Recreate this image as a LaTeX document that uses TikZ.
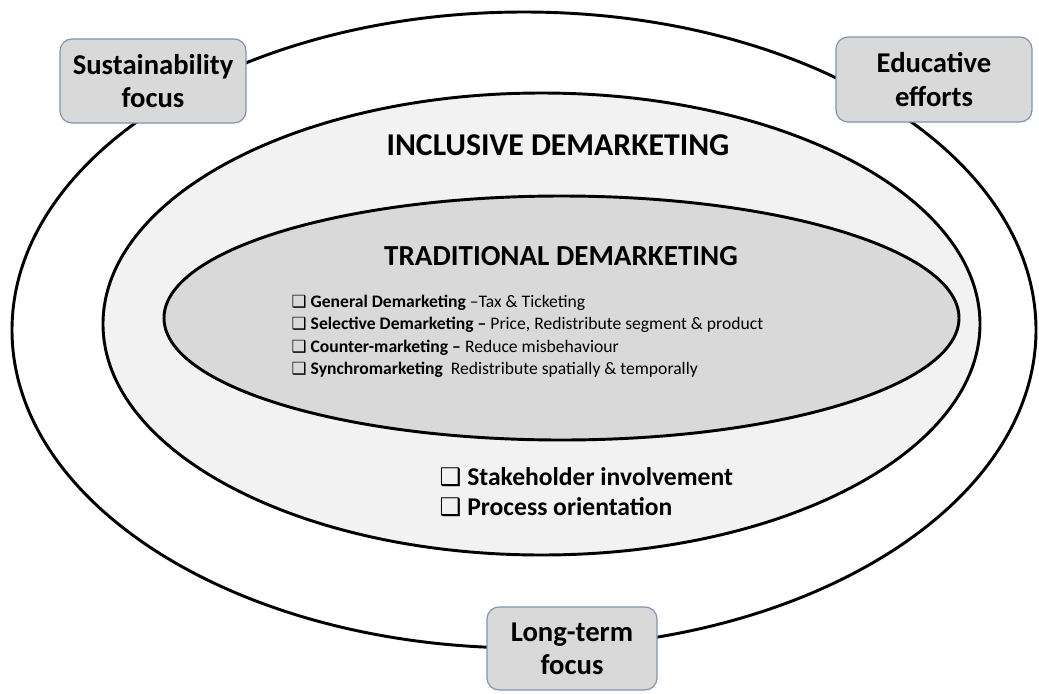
\documentclass[tikz,border=0pt]{standalone}
\usepackage{fontspec}
\setmainfont{Carlito}
\newfontfamily\symfont[Scale=0.95]{DejaVu Sans}
\usetikzlibrary{positioning}
\definecolor{boxgray}{RGB}{217,217,217}
\definecolor{ringgray}{RGB}{242,242,242}
\definecolor{boxedge}{RGB}{128,148,178}
\newcommand{\chk}{{\symfont ❑}}

\begin{document}
\begin{tikzpicture}[x=0.75pt,y=-0.75pt,
    ring/.style={draw=black,line width=2.2pt},
    focusbox/.style={draw=boxedge,fill=boxgray,rounded corners=9pt,line width=0.9pt,
      align=center,inner sep=0pt,font=\bfseries\fontsize{21.5}{25}\selectfont},
    title/.style={anchor=base,font=\bfseries\fontsize{23.8}{26}\selectfont},
    item/.style={anchor=base west,font=\fontsize{13.2}{15}\selectfont},
    bigitem/.style={anchor=base west,font=\bfseries\fontsize{19.2}{22}\selectfont}]
  \useasboundingbox (0,0) rectangle (1039,693);
  % rings
  \draw[ring,fill=white] (524,330) ellipse [x radius=512,y radius=318];
  \draw[ring,fill=ringgray] (541.5,324) ellipse [x radius=438.5,y radius=231];
  \draw[ring,fill=boxgray] (561.5,318) ellipse [x radius=397.5,y radius=122];
  % titles
  \node[title] (incl) at (558,155) {INCLUSIVE DEMARKETING};
  \node[title,font=\bfseries\fontsize{21.8}{26}\selectfont] (trad) at (561,265) {TRADITIONAL DEMARKETING};
  % traditional tools
  \node[item] (gen) at (287,307) {\chk\ \textbf{General Demarketing} –Tax \& Ticketing};
  \node[item] (sel) at (287,329.5) {\chk\ \textbf{Selective Demarketing –} Price, Redistribute segment \& product};
  \node[item] (cnt) at (287,352) {\chk\ \textbf{Counter-marketing –} Reduce misbehaviour};
  \node[item] (syn) at (287,374.5) {\chk\ \textbf{Synchromarketing}\ \ Redistribute spatially \& temporally};
  % inclusive additions
  \node[bigitem] (stake) at (435,485) {\chk\ Stakeholder involvement};
  \node[bigitem] (proc) at (435,515) {\chk\ Process orientation};
  % focus boxes on the outer ring
  \node[focusbox,minimum width=139.5pt,minimum height=63pt] (sust) at (153,81) {Sustainability\\focus};
  \node[focusbox,minimum width=147pt,minimum height=63.75pt] (edu) at (934,79.5) {Educative\\efforts};
  \node[focusbox,minimum width=127.5pt,minimum height=62.25pt] (long) at (572,648.5) {Long-term\\focus};
\end{tikzpicture}
\end{document}
